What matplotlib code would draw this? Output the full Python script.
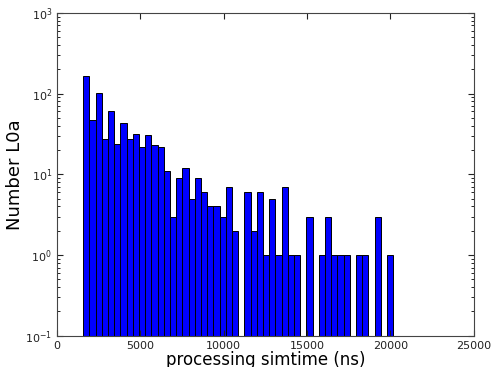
import numpy as np
from matplotlib import pyplot as plt

# histogram counts per bin (50 bins)
counts = [167, 47, 103, 27, 60, 24, 43, 27, 32, 22,
          31, 23, 22, 11, 3, 9, 12, 5, 9, 6,
          4, 4, 3, 7, 2, 0, 6, 2, 6, 1,
          5, 1, 7, 1, 1, 0, 3, 0, 1, 3,
          1, 1, 1, 0, 1, 1, 0, 3, 0, 1]
t_min = 1577.0
t_max = 20162.0

edges = np.linspace(t_min, t_max, len(counts) + 1)
centers = (edges[:-1] + edges[1:]) / 2

plt.rcParams['xtick.direction'] = 'in'
plt.rcParams['ytick.direction'] = 'in'
plt.rcParams['xtick.top'] = True
plt.rcParams['ytick.right'] = True

fig = plt.figure(figsize=(4.91, 3.67), dpi=100)
ax = fig.add_axes([0.116, 0.085, 0.849, 0.880])

ax.hist(centers, bins=edges, weights=counts, log=True,
        color='#0000ff', edgecolor='black', linewidth=0.7, bottom=1e-3)
ax.set_yscale('log')
ax.set_xlim(0, 25000)
ax.set_ylim(0.1, 1000)
ax.set_xticks([0, 5000, 10000, 15000, 20000, 25000])
ax.tick_params(labelsize=8, colors='#222222', length=4)
ax.tick_params(which='minor', length=2)
for s in ax.spines.values():
    s.set_color('#444444')

ax.set_xlabel("processing simtime (ns)", fontsize=12, labelpad=0)
ax.set_ylabel("Number L0a", fontsize=13, labelpad=1)

fig.savefig("out.png", dpi=100)
